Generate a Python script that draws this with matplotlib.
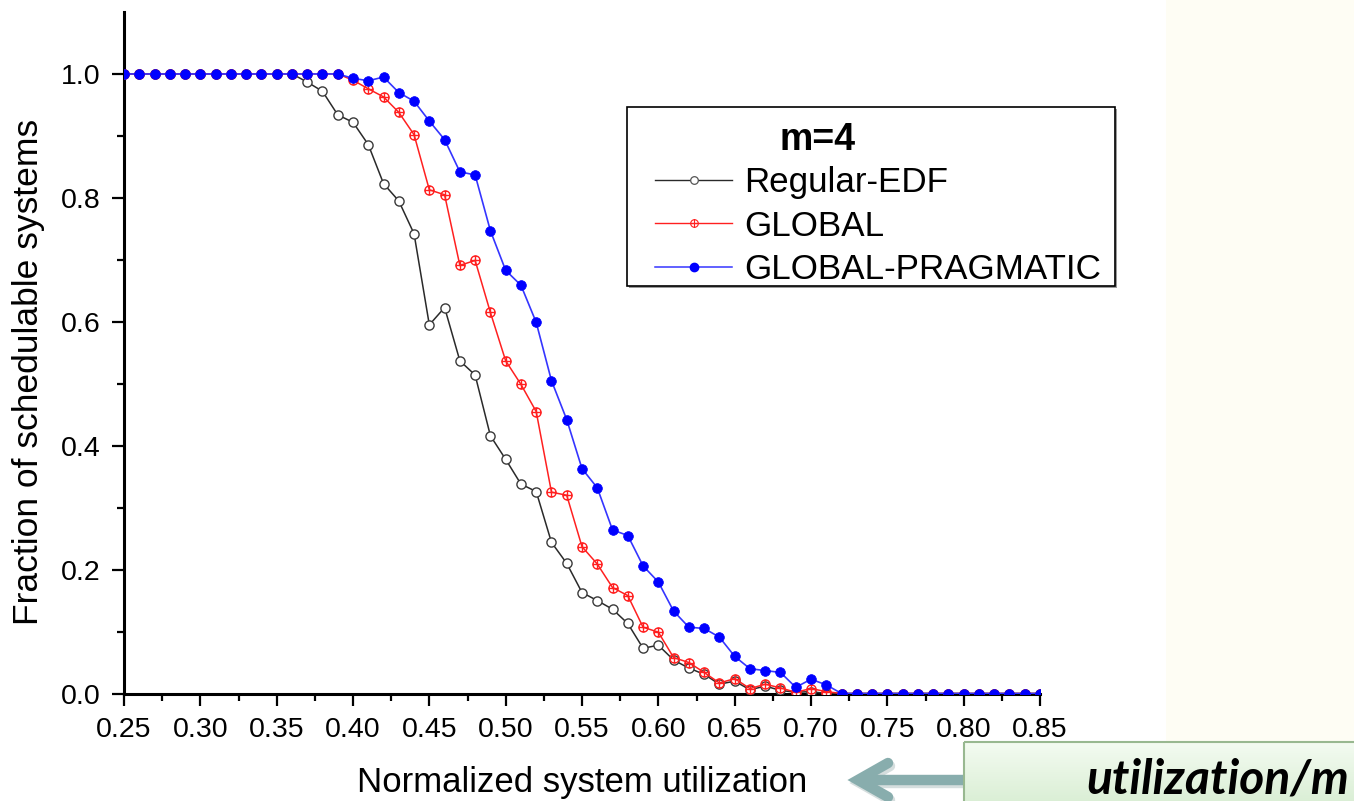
import numpy as np
import matplotlib
matplotlib.use("Agg")
import matplotlib.pyplot as plt
from matplotlib.path import Path
from matplotlib.lines import Line2D
from matplotlib.patches import Rectangle

# ---------------- data ----------------
utilization = [round(0.25 + 0.01 * i, 2) for i in range(61)]

regular_edf = [1.0] * 12 + [
    0.987, 0.972, 0.934, 0.922, 0.886, 0.823, 0.795, 0.742, 0.595, 0.623,
    0.537, 0.514, 0.416, 0.378, 0.338, 0.326, 0.244, 0.210, 0.163, 0.150,
    0.136, 0.113, 0.073, 0.078, 0.054, 0.041, 0.031, 0.015, 0.020, 0.006,
    0.012, 0.005, 0.002, 0.003] + [0.0] * 15

global_ = [1.0] * 15 + [
    0.990, 0.976, 0.963, 0.938, 0.902, 0.813, 0.805, 0.691, 0.699, 0.615,
    0.537, 0.499, 0.455, 0.325, 0.320, 0.237, 0.209, 0.171, 0.158, 0.107,
    0.099, 0.058, 0.050, 0.034, 0.017, 0.024, 0.008, 0.015, 0.009, 0.002,
    0.008, 0.003] + [0.0] * 14

global_pragmatic = [1.0] * 15 + [
    0.993, 0.989, 0.995, 0.970, 0.956, 0.924, 0.894, 0.842, 0.837, 0.747,
    0.683, 0.659, 0.599, 0.505, 0.442, 0.363, 0.332, 0.264, 0.255, 0.206,
    0.180, 0.133, 0.107, 0.105, 0.091, 0.060, 0.040, 0.037, 0.034, 0.010,
    0.023, 0.014] + [0.0] * 14

series_labels = ["Regular-EDF", "GLOBAL", "GLOBAL-PRAGMATIC"]
x_ticks = [0.25, 0.30, 0.35, 0.40, 0.45, 0.50, 0.55, 0.60, 0.65, 0.70, 0.75, 0.80, 0.85]
y_ticks = [0.0, 0.2, 0.4, 0.6, 0.8, 1.0]

# ---------------- figure ----------------
W, H = 1354, 801
fig = plt.figure(figsize=(W / 100, H / 100), dpi=100)
fig.patch.set_facecolor("white")
FONT = ["Liberation Sans", "DejaVu Sans"]

def fx(px):
    return px / W

def fy(py):
    return 1 - py / H

# background layer (beige panel + legend frame)
bg = fig.add_axes([0, 0, 1, 1], zorder=-1)
bg.set_xlim(0, W)
bg.set_ylim(H, 0)
bg.axis("off")
bg.add_patch(Rectangle((1166, 0), W - 1166, H, facecolor="#FEFDF4", edgecolor="none"))
bg.add_patch(Rectangle((629, 109), 488, 179, facecolor="#9a9a9a", edgecolor="none"))
bg.add_patch(Rectangle((627, 107), 488, 179, facecolor="white", edgecolor="black", linewidth=1.2))

# main axes
ax_left, ax_right = 124, 1040
ax_bottom, ax_top = 693.5, 12
ax = fig.add_axes([fx(ax_left), fy(ax_bottom), fx(ax_right - ax_left), (ax_bottom - ax_top) / H])
ax.set_facecolor("none")

# circle-plus marker
circ = Path.unit_circle()
cross = Path([[-1, 0], [1, 0], [0, -1], [0, 1]],
             [Path.MOVETO, Path.LINETO, Path.MOVETO, Path.LINETO])
oplus = Path.make_compound_path(circ, cross)

ax.plot(utilization, regular_edf, color="#2a2a2a", lw=1.1, marker="o", ms=6.6,
        mfc="white", mec="#3a3a3a", mew=1.0, zorder=3)
ax.plot(utilization, global_, color="#ff2020", lw=1.1, marker=oplus, ms=6.6,
        mfc="none", mec="#ff2020", mew=1.0, zorder=4)
ax.plot(utilization, global_pragmatic, color="#3535ff", lw=1.2, marker="o", ms=7.0,
        mfc="#0000ff", mec="#0000ff", mew=0.5, zorder=5)

ax.set_xlim(0.25, 0.85)
ax.set_ylim(0.0, 1.10)
ax.set_xticks(x_ticks)
ax.set_xticklabels([f"{v:.2f}" for v in x_ticks])
ax.set_xticks([0.275 + 0.05 * i for i in range(12)], minor=True)
ax.set_yticks(y_ticks)
ax.set_yticklabels([f"{v:.1f}" for v in y_ticks])
ax.set_yticks([0.1, 0.3, 0.5, 0.7, 0.9], minor=True)

for s in ["top", "right"]:
    ax.spines[s].set_visible(False)
for s in ["left", "bottom"]:
    ax.spines[s].set_linewidth(2.2)
ax.tick_params(which="major", direction="out", length=8.6, width=1.6, labelsize=20.5, pad=8)
ax.tick_params(which="minor", direction="out", length=5.0, width=1.6)
for lab in ax.get_xticklabels() + ax.get_yticklabels():
    lab.set_family(FONT)

ax.set_xlabel("Normalized system utilization", fontsize=25, family=FONT, labelpad=17)
ax.set_ylabel("Fraction of schedulable systems", fontsize=25.5, family=FONT)
ax.yaxis.set_label_coords((45 - ax_left) / (ax_right - ax_left),
                          (ax_bottom - 372) / (ax_bottom - ax_top))

# legend
handles = [
    Line2D([], [], color="#2a2a2a", lw=1.0, marker="o", ms=5.5, mfc="white", mec="#555555", mew=0.9),
    Line2D([], [], color="#ff2020", lw=1.0, marker=oplus, ms=5.5, mfc="none", mec="#ff2020", mew=0.8),
    Line2D([], [], color="#3535ff", lw=1.1, marker="o", ms=6.0, mfc="#0000ff", mec="#0000ff"),
]
leg = fig.legend(handles, series_labels, loc="center left",
                 bbox_to_anchor=(fx(655), fy(226)), frameon=False,
                 prop={"family": FONT, "size": 25.2}, handlelength=2.2,
                 handletextpad=0.34, labelspacing=0.3, borderpad=0, borderaxespad=0)
fig.text(fx(818), fy(140), "m=4", ha="center", va="center", fontsize=27,
         fontweight="bold", family=FONT)

# foreground layer (arrow + green box)
fg = fig.add_axes([0, 0, 1, 1], zorder=10)
fg.set_xlim(0, W)
fg.set_ylim(H, 0)
fg.axis("off")
fg.patch.set_alpha(0)

grad = np.linspace(0, 1, 64).reshape(-1, 1)
top_c = np.array([0.955, 0.985, 0.945])
bot_c = np.array([0.855, 0.935, 0.835])
img = top_c + (bot_c - top_c) * grad[..., None]
img = np.repeat(img, 2, axis=1)
fg.imshow(img, extent=(964, W + 2, H + 2, 742), aspect="auto", zorder=1)
fg.add_patch(Rectangle((964, 742), W - 964 + 5, H - 742 + 5, facecolor="none",
                       edgecolor="#98b890", linewidth=1.5, zorder=2))

arrow_c = "#88adad"
shadow_c = "#d5dede"
for dx, dy, c, z in [(2, 3, shadow_c, 0.5), (0, 0, arrow_c, 1.5)]:
    fg.plot([964 + dx, 858 + dx], [780 + dy, 780 + dy], color=c, lw=7.5,
            solid_capstyle="butt", zorder=z)
    fg.plot([888 + dx, 858 + dx, 888 + dx], [763 + dy, 780 + dy, 797 + dy], color=c,
            lw=7.5, solid_capstyle="round", solid_joinstyle="miter", zorder=z)

fg.text(1349, 794, "utilization/m", ha="right", va="baseline", fontsize=34.5,
        fontweight="bold", fontstyle="italic", family=["Lato", "DejaVu Sans"], zorder=3)

fig.savefig("out.png", dpi=100)
